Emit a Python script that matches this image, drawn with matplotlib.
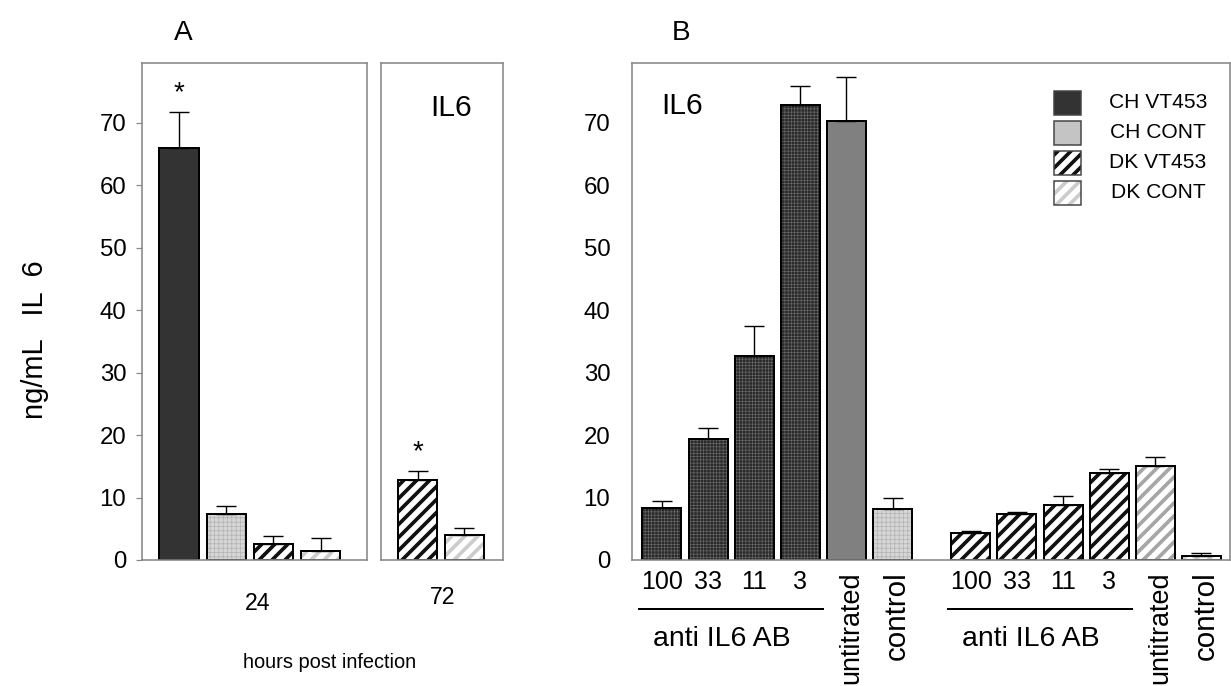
import matplotlib
matplotlib.use('Agg')
import matplotlib.pyplot as plt
import matplotlib.patches as mpatches
import numpy as np

# figure is drawn at 78 dpi so that the hatch spacing comes out right
DPI = 78
W, H = 1231, 686

def pt(px):
    # pixels -> points at this dpi
    return px * 72.0 / DPI

plt.rcParams['font.family'] = ['Liberation Sans', 'DejaVu Sans']

# ---- data -------------------------------------------------------------
hours = ['24', '72']
a24_keys = ['ch_vt', 'ch_cont', 'dk_vt', 'dk_cont']
a24_vals = [66.0, 7.3, 2.6, 1.4]
a24_errs = [5.7, 1.4, 1.3, 2.2]
a72_keys = ['dk_vt', 'dk_cont']
a72_vals = [12.8, 4.0]
a72_errs = [1.4, 1.2]
a_stars = [0]          # index of significant bar in each group
a72_stars = [0]

doses = ['100', '33', '11', '3']
b_ch_keys = ['ch_ab', 'ch_ab', 'ch_ab', 'ch_ab', 'ch_untit', 'ch_cont']
b_ch_vals = [8.4, 19.3, 32.6, 72.9, 70.2, 8.2]
b_ch_errs = [1.1, 1.8, 4.8, 2.9, 7.1, 1.8]
b_dk_keys = ['dk_vt', 'dk_vt', 'dk_vt', 'dk_vt', 'dk_untit', 'dk_cont']
b_dk_vals = [4.3, 7.3, 8.8, 14.0, 15.0, 0.7]
b_dk_errs = [0.4, 0.4, 1.5, 0.6, 1.5, 0.4]

legend_labels = ['CH VT453', 'CH CONT', 'DK VT453', 'DK CONT']
legend_keys = ['ch_vt', 'ch_legend', 'dk_vt', 'dk_cont']

styles = {
    'ch_vt':     dict(fc='#333333'),
    'ch_legend': dict(fc='#c4c4c4'),
    'ch_cont':   dict(fc='#d6d6d6', hatch='+++', hc='#b0b0b0', hlw=0.6),
    'ch_ab':     dict(fc='#2a2a2a', hatch='++++', hc='#707070', hlw=0.5),
    'ch_untit':  dict(fc='#808080'),
    'dk_vt':     dict(fc='white', hatch='//', hc='#111111', hlw=3.4),
    'dk_cont':   dict(fc='white', hatch='//', hc='#cccccc', hlw=3.4),
    'dk_untit':  dict(fc='white', hatch='//', hc='#a6a6a6', hlw=3.4),
}

GREY = '#888888'


def fill_patch(p, key):
    s = styles[key]
    p.set_facecolor(s['fc'])
    if 'hatch' in s:
        p.set_hatch(s['hatch'])
        p.set_edgecolor(s['hc'])
        if hasattr(p, 'set_hatch_linewidth'):
            p.set_hatch_linewidth(s['hlw'])


def draw_bars(ax, x, vals, errs, keys, width):
    for xi, v, k in zip(x, vals, keys):
        s = styles[k]
        with plt.rc_context({'hatch.linewidth': s.get('hlw', 1.0)}):
            b = ax.bar(xi, v, width, linewidth=0)[0]
            fill_patch(b, k)
            b.set_linewidth(0)
        ax.bar(xi, v, width, fill=False, edgecolor='black', linewidth=pt(2))
    ax.errorbar(x, vals, yerr=[np.zeros(len(vals)), errs], fmt='none',
                ecolor='black', elinewidth=pt(1.4), capsize=pt(10),
                capthick=pt(1.4))


def frame(ax):
    for sp in ax.spines.values():
        sp.set_color(GREY)
        sp.set_linewidth(pt(1.6))
    ax.set_ylim(0, 79.5)
    ax.set_xticks([])


fig = plt.figure(figsize=(W / DPI, H / DPI), dpi=DPI)

def px_axes(x0, x1, y0=63.3, y1=560.0):
    return fig.add_axes([x0 / W, 1 - y1 / H, (x1 - x0) / W, (y1 - y0) / H])

ax1 = px_axes(142.3, 366.9)
ax2 = px_axes(380.5, 502.5)
axb = px_axes(632.3, 1230.0)

# ---- panel A ----------------------------------------------------------
BW_A = 0.837
x24 = np.arange(len(a24_vals))
draw_bars(ax1, x24, a24_vals, a24_errs, a24_keys, BW_A)
frame(ax1)
ax1.set_xlim(-0.78, 3.98)
ax1.set_yticks(range(0, 80, 10))
ax1.tick_params(axis='y', direction='out', length=pt(6), width=pt(1.2),
                color=GREY, labelsize=pt(24), pad=pt(10))

x72 = np.arange(len(a72_vals))
draw_bars(ax2, x72, a72_vals, a72_errs, a72_keys, BW_A)
frame(ax2)
ax2.set_xlim(-0.8, 1.82)
ax2.set_yticks([])

for ax, xs, vals, errs, idx in [(ax1, x24, a24_vals, a24_errs, a_stars),
                                (ax2, x72, a72_vals, a72_errs, a72_stars)]:
    for i in idx:
        ax.annotate('*', (xs[i], vals[i] + errs[i]), xytext=(0, pt(12)),
                    textcoords='offset points', ha='center', va='baseline',
                    fontsize=pt(28))

ax2.text(430 / W, 1 - 116 / H, 'IL6', transform=fig.transFigure,
         fontsize=pt(30), ha='left', va='baseline')

fig.text(258 / W, 1 - 604 / H, hours[0], ha='center', va='center', fontsize=pt(23))
fig.text(443 / W, 1 - 598 / H, hours[1], ha='center', va='center', fontsize=pt(23))
fig.text(330 / W, 1 - 662 / H, 'hours post infection', ha='center',
         va='center', fontsize=pt(20))
fig.text(35 / W, 1 - 340 / H, 'ng/mL   IL  6', rotation=90, ha='center',
         va='center', fontsize=pt(29))

# ---- panel B ----------------------------------------------------------
BW_B = 0.846
xb_ch = np.arange(len(b_ch_vals))
xb_dk = np.arange(len(b_dk_vals)) + 6.7
draw_bars(axb, xb_ch, b_ch_vals, b_ch_errs, b_ch_keys, BW_B)
draw_bars(axb, xb_dk, b_dk_vals, b_dk_errs, b_dk_keys, BW_B)
frame(axb)
axb.set_xlim(-0.644, 12.32)
axb.set_yticks(range(0, 80, 10))
axb.tick_params(axis='y', length=0, labelsize=pt(24), pad=pt(22))
axb.text(661 / W, 1 - 114 / H, 'IL6', transform=fig.transFigure,
         fontsize=pt(30), ha='left', va='baseline')

# group labels under panel B
tr = axb.get_xaxis_transform()
def yf(ypx):
    return (560.0 - ypx) / (560.0 - 63.3)

for xs in (xb_ch, xb_dk):
    for i, d in enumerate(doses):
        axb.text(xs[i], yf(582), d, transform=tr, ha='center', va='center',
                 fontsize=pt(25))
    axb.plot([xs[0] - 0.5, xs[3] + 0.5], [yf(609), yf(609)], transform=tr,
             color='black', lw=pt(2), clip_on=False)
    axb.text((xs[0] + xs[3]) / 2 - 0.2, yf(639), 'anti IL6 AB', transform=tr,
             ha='center', va='center', fontsize=pt(28.5))
    axb.text(xs[4] + 0.1, yf(571), 'untitrated', transform=tr, rotation=90,
             ha='center', va='top', fontsize=pt(27))
    axb.text(xs[5] + 0.1, yf(571), 'control', transform=tr, rotation=90,
             ha='center', va='top', fontsize=pt(29.5))

# legend boxes with centred labels
for i, (lab, key) in enumerate(zip(legend_labels, legend_keys)):
    top = 90.7 + 30 * i
    s = styles[key]
    with plt.rc_context({'hatch.linewidth': s.get('hlw', 1.0)}):
        r = mpatches.Rectangle((1054 / W, 1 - (top + 24) / H), 27 / W, 24 / H,
                               transform=fig.transFigure, linewidth=0)
        fill_patch(r, key)
        fig.add_artist(r)
    fig.add_artist(mpatches.Rectangle((1054 / W, 1 - (top + 24) / H), 27 / W,
                                      24 / H, transform=fig.transFigure,
                                      fill=False, edgecolor='#444444',
                                      linewidth=pt(1.5)))
    fig.text(1158 / W, 1 - (top + 12) / H, lab, ha='center', va='center',
             fontsize=pt(21))

fig.text(174 / W, 1 - 40 / H, 'A', ha='left', va='baseline', fontsize=pt(28))
fig.text(672 / W, 1 - 40 / H, 'B', ha='left', va='baseline', fontsize=pt(28))

fig.savefig('out.png', dpi=DPI)
